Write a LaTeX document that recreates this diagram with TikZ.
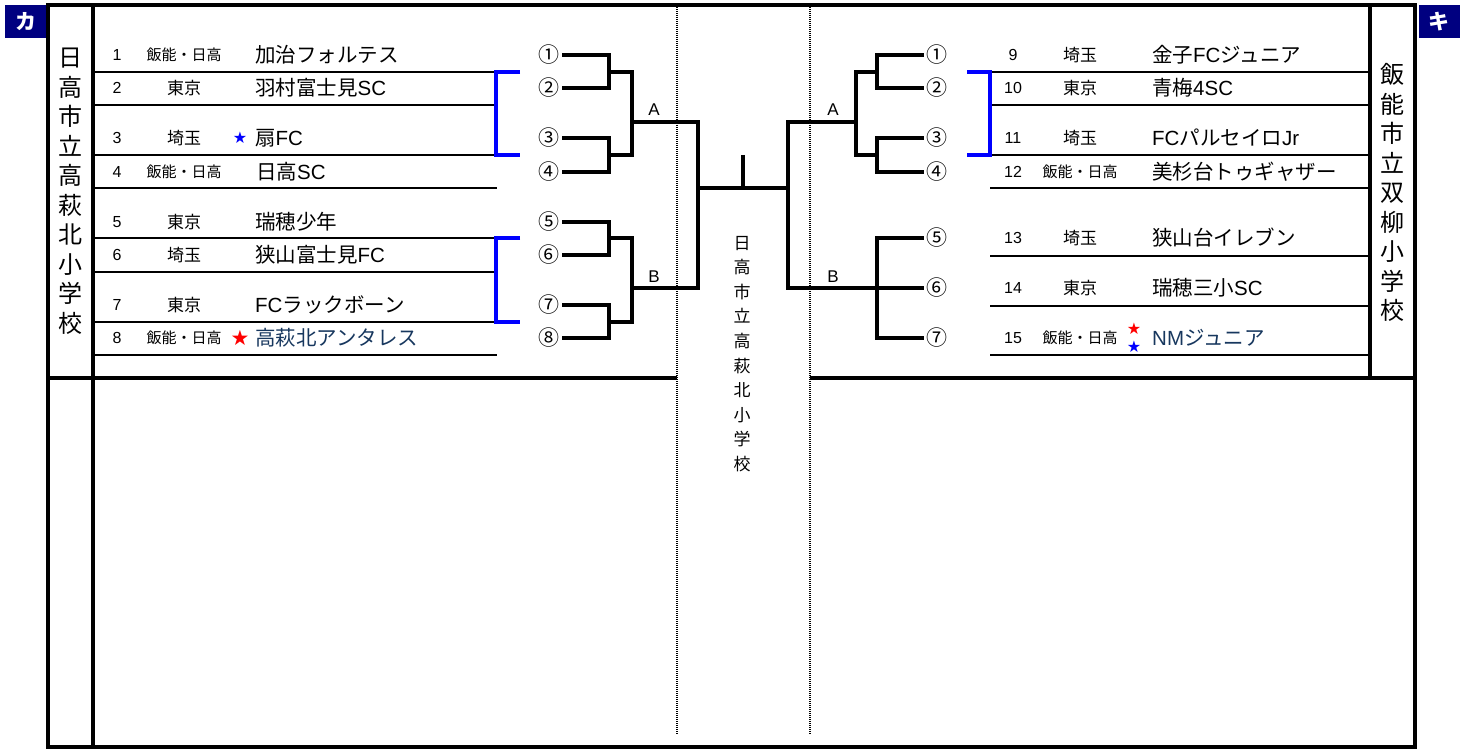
\documentclass[tikz,border=0pt]{standalone}
\usepackage{fontspec}
\setmainfont{Noto Sans CJK JP}
\newfontfamily\symfont{DejaVu Sans}
\newfontfamily\lat{Liberation Sans}
\definecolor{navybox}{RGB}{0,0,128}
\definecolor{teamblue}{RGB}{23,55,94}
\definecolor{brblue}{RGB}{0,0,255}
\begin{document}
\begin{tikzpicture}[x=1pt,y=-1pt,
  frame/.style={line width=3.4pt},
  br/.style={line width=3.2pt, line join=miter},
  thinrow/.style={line width=1.3pt},
  blueb/.style={line width=3.2pt, draw=brblue, line join=miter},
  dotline/.style={line width=1.4pt, dash pattern=on 1pt off 1pt},
  num/.style={font=\lat\fontsize{16}{16}\selectfont, inner sep=0pt},
  pref/.style={font=\fontsize{17}{17}\selectfont, inner sep=0pt},
  prefs/.style={font=\fontsize{15}{15}\selectfont, inner sep=0pt},
  team/.style={anchor=west, font=\fontsize{20.5}{20.5}\selectfont, inner sep=0pt},
  circ/.style={font=\fontsize{21}{21}\selectfont, inner ysep=0pt, inner xsep=2.5pt, outer sep=0pt},
  lab/.style={font=\lat\fontsize{17}{17}\selectfont, inner sep=0pt},
  badge/.style={fill=navybox, text=white, font=\bfseries\fontsize{21}{21}\selectfont, minimum width=41pt, minimum height=33pt, inner sep=0pt},
  vert/.style={align=center, inner sep=0pt, font=\fontsize{24}{29.5}\selectfont},
  vertc/.style={align=center, inner sep=0pt, font=\fontsize{17}{24.6}\selectfont},
  star/.style={inner sep=0pt, font=\symfont\fontsize{16}{16}\selectfont}
]
\useasboundingbox (0,0) rectangle (1470,749);

% badges
\node[badge] (bka) at (25.5,21.5) {カ};
\node[badge] (bki) at (1439,21.5) {キ};

% frame
\draw[frame] (48,5) rectangle (1415,747);
\draw[frame] (93,5) -- (93,747);
\draw[frame] (1370,5) -- (1370,378);
\draw[frame] (48,378) -- (677,378);
\draw[frame] (810,378) -- (1415,378);
\draw[dotline] (677,5) -- (677,735);
\draw[dotline] (810,5) -- (810,735);

% vertical school names
\node[vert] (schL) at (70,191) {日\\高\\市\\立\\高\\萩\\北\\小\\学\\校};
\node[vert] (schR) at (1392,192.5) {飯\\能\\市\\立\\双\\柳\\小\\学\\校};
\node[vertc] (schC) at (742,354) {日\\高\\市\\立\\高\\萩\\北\\小\\学\\校};

% left row lines
\foreach \yy in {72,105,155,188,238,272,322,355}
  \draw[thinrow] (93,\yy) -- (497,\yy);
% right row lines
\foreach \yy in {72,105,155,188,256,306,355}
  \draw[thinrow] (990,\yy) -- (1370,\yy);

% left teams
\node[num] (n1) at (117,55) {1};
\node[prefs] (p1) at (184,55) {飯能・日高};
\node[team] (t1) at (255,55) {加治フォルテス};
\node[num] (n2) at (117,88) {2};
\node[pref] (p2) at (184,88) {東京};
\node[team] (t2) at (255,88) {羽村富士見{\lat SC}};
\node[num] (n3) at (117,138) {3};
\node[pref] (p3) at (184,138) {埼玉};
\node[star, text=brblue] (s3) at (240,138) {★};
\node[team] (t3) at (255,138) {扇{\lat FC}};
\node[num] (n4) at (117,172) {4};
\node[prefs] (p4) at (184,172) {飯能・日高};
\node[team] (t4) at (256,172) {日高{\lat SC}};
\node[num] (n5) at (117,222) {5};
\node[pref] (p5) at (184,222) {東京};
\node[team] (t5) at (255,222) {瑞穂少年};
\node[num] (n6) at (117,255) {6};
\node[pref] (p6) at (184,255) {埼玉};
\node[team] (t6) at (255,255) {狭山富士見{\lat FC}};
\node[num] (n7) at (117,305) {7};
\node[pref] (p7) at (184,305) {東京};
\node[team] (t7) at (255,305) {{\lat FC}ラックボーン};
\node[num] (n8) at (117,338) {8};
\node[prefs] (p8) at (184,338) {飯能・日高};
\node[star, text=red, font=\symfont\fontsize{21}{21}\selectfont] (s8) at (240,338) {★};
\node[team, text=teamblue] (t8) at (255,338) {高萩北アンタレス};

% right teams
\node[num] (n9) at (1013,55) {9};
\node[pref] (p9) at (1080,55) {埼玉};
\node[team] (t9) at (1152,55) {金子{\lat FC}ジュニア};
\node[num] (n10) at (1013,88) {10};
\node[pref] (p10) at (1080,88) {東京};
\node[team] (t10) at (1152,88) {青梅{\lat 4SC}};
\node[num] (n11) at (1013,138) {11};
\node[pref] (p11) at (1080,138) {埼玉};
\node[team] (t11) at (1152,138) {{\lat FC}パルセイロ{\lat Jr}};
\node[num] (n12) at (1013,172) {12};
\node[prefs] (p12) at (1080,172) {飯能・日高};
\node[team] (t12) at (1152,172) {美杉台トゥギャザー};
\node[num] (n13) at (1013,238) {13};
\node[pref] (p13) at (1080,238) {埼玉};
\node[team] (t13) at (1152,238) {狭山台イレブン};
\node[num] (n14) at (1013,288) {14};
\node[pref] (p14) at (1080,288) {東京};
\node[team] (t14) at (1152,288) {瑞穂三小{\lat SC}};
\node[num] (n15) at (1013,338) {15};
\node[prefs] (p15) at (1080,338) {飯能・日高};
\node[star, text=red] (s15a) at (1134,329) {★};
\node[star, text=brblue] (s15b) at (1134,347) {★};
\node[team, text=teamblue] (t15) at (1152,338) {{\lat NM}ジュニア};

% blue brackets
\draw[blueb] (520,72) -- (496,72) -- (496,155) -- (520,155);
\draw[blueb] (520,238) -- (496,238) -- (496,322) -- (520,322);
\draw[blueb] (967,72) -- (990,72) -- (990,155) -- (967,155);

% left circled numbers
\node[circ] (L1) at (549,55) {①};
\node[circ] (L2) at (549,88) {②};
\node[circ] (L3) at (549,138) {③};
\node[circ] (L4) at (549,172) {④};
\node[circ] (L5) at (549,222) {⑤};
\node[circ] (L6) at (549,255) {⑥};
\node[circ] (L7) at (549,305) {⑦};
\node[circ] (L8) at (549,338) {⑧};
% right circled numbers
\node[circ] (R1) at (937,55) {①};
\node[circ] (R2) at (937,88) {②};
\node[circ] (R3) at (937,138) {③};
\node[circ] (R4) at (937,172) {④};
\node[circ] (R5) at (937,238) {⑤};
\node[circ] (R6) at (937,288) {⑥};
\node[circ] (R7) at (937,338) {⑦};

% junction coordinates
\coordinate (la12) at (609,72);
\coordinate (la34) at (609,155);
\coordinate (lA) at (632,122);
\coordinate (lb56) at (609,238);
\coordinate (lb78) at (609,322);
\coordinate (lB) at (632,288);
\coordinate (cL) at (698,188);
\coordinate (cR) at (788,188);
\coordinate (cTop) at (743,155);
\coordinate (cMid) at (743,188);
\coordinate (ra12) at (877,72);
\coordinate (ra34) at (877,155);
\coordinate (rA) at (856,122);
\coordinate (rb) at (877,288);

% left bracket
\draw[br] (L1.east) -| (la12) |- (L2.east);
\draw[br] (L3.east) -| (la34) |- (L4.east);
\draw[br] (la12) -| (lA) |- (la34);
\draw[br] (L5.east) -| (lb56) |- (L6.east);
\draw[br] (L7.east) -| (lb78) |- (L8.east);
\draw[br] (lb56) -| (lB) |- (lb78);
\draw[br] (lA) -| (cL) |- (lB);
\draw[br] (cL) -- (cR);
\draw[br] (cTop) -- (cMid);
% right bracket
\draw[br] (R1.west) -| (ra12) |- (R2.west);
\draw[br] (R3.west) -| (ra34) |- (R4.west);
\draw[br] (ra12) -| (rA) |- (ra34);
\draw[br] (rA) -| (cR) |- (rb) -- (R6.west);
\draw[br] (R5.west) -| (rb) |- (R7.west);

% labels
\node[lab] (labLA) at (654,110) {A};
\node[lab] (labLB) at (654,277) {B};
\node[lab] (labRA) at (833,110) {A};
\node[lab] (labRB) at (833,277) {B};
\end{tikzpicture}
\end{document}
